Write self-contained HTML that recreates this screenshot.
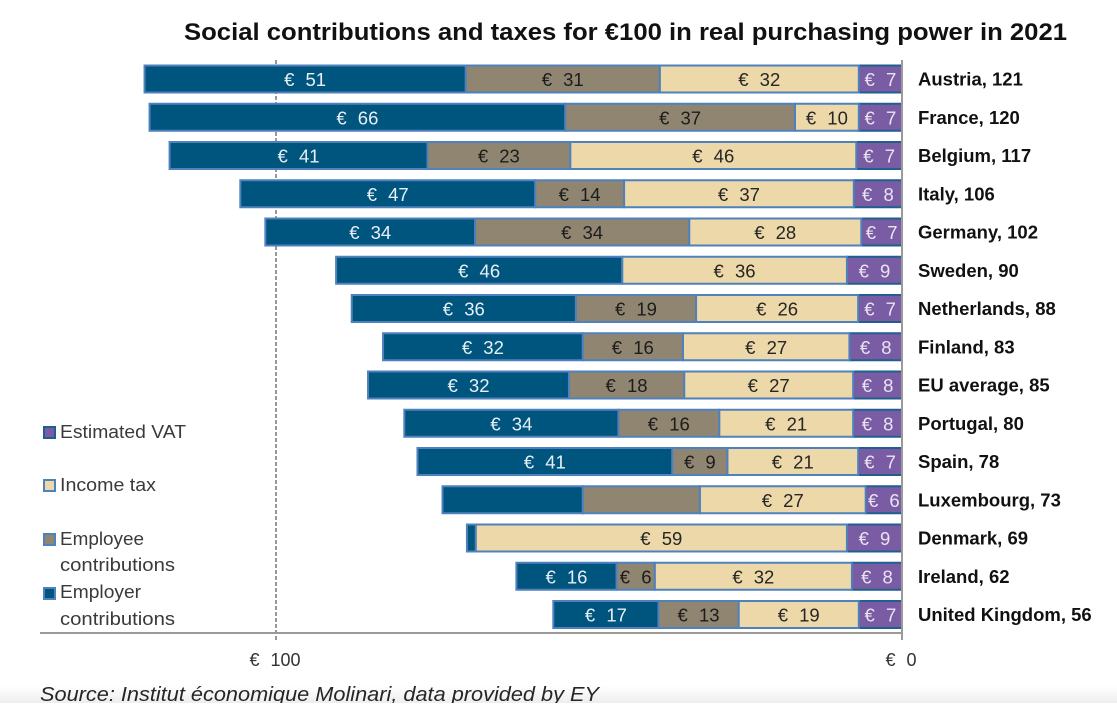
<!DOCTYPE html>
<html lang="en">
<head>
<meta charset="utf-8">
<title>Social contributions and taxes</title>
<style>
html,body{margin:0;padding:0;background:#fff;}
svg{display:block;font-family:"Liberation Sans",sans-serif;filter:blur(0.35px);}
</style>
</head>
<body>
<svg id="chart" xmlns="http://www.w3.org/2000/svg" width="1117" height="713" viewBox="0 0 1117 713">
  <defs>
    <linearGradient id="fade" x1="0" y1="0" x2="0" y2="1">
      <stop offset="0" stop-color="#ffffff"/>
      <stop offset="1" stop-color="#eeeeee"/>
    </linearGradient>
  </defs>
  <rect x="0" y="0" width="1117" height="713" fill="#ffffff"/>
  <rect x="0" y="686" width="1117" height="17" fill="url(#fade)"/>
  <text x="184" y="40" font-size="24" font-weight="700" fill="#111" textLength="883" lengthAdjust="spacingAndGlyphs">Social contributions and taxes for €100 in real purchasing power in 2021</text>

  <line x1="276" y1="60" x2="276" y2="640" stroke="#777" stroke-width="1.5" stroke-dasharray="4 2"/>
  <g id="bars"></g>
  <line x1="40" y1="633" x2="902" y2="633" stroke="#9a9a9a" stroke-width="2"/>
  <line x1="902" y1="60" x2="902" y2="640" stroke="#9a9a9a" stroke-width="2"/>
  <g id="ticks"></g>
  <g id="countries"></g>

  <g font-size="18" fill="#3a3a3a">
    <g>
      <rect x="44" y="427" width="11" height="11" fill="#7a5ca5" stroke="#1f5f8f" stroke-width="2"/>
      <text x="60" y="438" textLength="126" lengthAdjust="spacingAndGlyphs">Estimated VAT</text>
    </g>
    <g>
      <rect x="44" y="480" width="11" height="11" fill="#ecd8a8" stroke="#4f81bd" stroke-width="2"/>
      <text x="60" y="491" textLength="96" lengthAdjust="spacingAndGlyphs">Income tax</text>
    </g>
    <g>
      <rect x="44" y="534" width="11" height="11" fill="#908570" stroke="#4f81bd" stroke-width="2"/>
      <text x="60" y="545" textLength="84" lengthAdjust="spacingAndGlyphs">Employee</text>
      <text x="60" y="571" textLength="115" lengthAdjust="spacingAndGlyphs">contributions</text>
    </g>
    <g>
      <rect x="44" y="588" width="11" height="11" fill="#00557f" stroke="#4f81bd" stroke-width="2"/>
      <text x="60" y="598" textLength="81" lengthAdjust="spacingAndGlyphs">Employer</text>
      <text x="60" y="625" textLength="115" lengthAdjust="spacingAndGlyphs">contributions</text>
    </g>
  </g>

  <text x="40" y="701" font-size="20" font-style="italic" fill="#262626" textLength="559" lengthAdjust="spacingAndGlyphs">Source: Institut économique Molinari, data provided by EY</text>
  <rect x="0" y="703" width="1117" height="10" fill="#ffffff"/>
</svg>
<script>
const countries = ["Austria","France","Belgium","Italy","Germany","Sweden","Netherlands","Finland","EU average","Portugal","Spain","Luxembourg","Denmark","Ireland","United Kingdom"];
const totals = [121,120,117,106,102,90,88,83,85,80,78,73,69,62,56];
const estimatedVat = [6.9,6.9,7.3,7.7,6.5,8.8,7.0,8.4,7.8,7.8,7.0,5.8,8.8,8.0,6.9];
const incomeTax = [31.8,10.2,45.7,36.7,27.5,35.9,25.9,26.6,27.0,21.4,20.9,26.5,59.3,31.5,19.2];
const employeeContributions = [31.0,36.7,22.8,14.2,34.2,0,19.2,16.0,18.4,16.1,8.8,18.7,0,6.1,12.8];
const employerContributions = [51.3,66.4,41.2,47.1,33.5,45.7,35.8,31.9,32.1,34.2,40.7,22.4,1.4,16.0,16.8];
const unlabeledEmployer = ["Luxembourg","Denmark"];
const unlabeledEmployee = ["Luxembourg"];
const xTicks = [100,0];

const NS = "http://www.w3.org/2000/svg";
function xScale(v){ return 902 - v * 6.26; }
function yScale(i){ return 79 + i * 38.25; }
function slug(s){ return s.toLowerCase().replace(/\s+/g, "-"); }
function make(tag, attrs, parent){
  const el = document.createElementNS(NS, tag);
  for (const k in attrs) el.setAttribute(k, attrs[k]);
  parent.appendChild(el);
  return el;
}

const seriesList = [
  {key:"vat", values:estimatedVat, fill:"#7a5ca5", stroke:"#1f5f8f", ink:"#e9e4f2", skip:[]},
  {key:"income-tax", values:incomeTax, fill:"#ecd8a8", stroke:"#4f81bd", ink:"#262626", skip:[]},
  {key:"employee", values:employeeContributions, fill:"#908570", stroke:"#4f81bd", ink:"#1c1c1c", skip:unlabeledEmployee},
  {key:"employer", values:employerContributions, fill:"#00557f", stroke:"#4f81bd", ink:"#e8eff5", skip:unlabeledEmployer}
];

const barsGroup = document.getElementById("bars");
countries.forEach(function(country, i){
  let cum = 0;
  const cy = yScale(i);
  const rowGroup = make("g", {}, barsGroup);
  
  
  seriesList.forEach(function(s){
    const v = s.values[i];
    if (v <= 0) return;
    const xRight = xScale(cum);
    const xLeft = xScale(cum + v);
    cum += v;
    const rect = make("rect", {x:xLeft, y:cy-13.5, width:xRight-xLeft, height:27, fill:s.fill, stroke:s.stroke, "stroke-width":2}, rowGroup);
    
    
    if (s.skip.indexOf(country) >= 0 || v < 3) return;
    const rounded = Math.round(v);
    const label = make("text", {x:(xLeft+xRight)/2, y:cy+7, "font-size":18.5, fill:s.ink, "text-anchor":"middle", "word-spacing":6}, rowGroup);
    label.textContent = "€ " + rounded;
    
    
  });
});

const countriesGroup = document.getElementById("countries");
countries.forEach(function(country, i){
  const t = make("text", {x:918, y:yScale(i)+6.5, "font-size":18.5, "font-weight":700, fill:"#111"}, countriesGroup);
  t.textContent = country + ", " + totals[i];
  
  
});

const ticksGroup = document.getElementById("ticks");
xTicks.forEach(function(v){
  const t = make("text", {x:xScale(v)-1, y:666, "font-size":18, fill:"#333", "text-anchor":"middle", "word-spacing":6}, ticksGroup);
  t.textContent = "€ " + v;
  
  
});
</script>
</body>
</html>
